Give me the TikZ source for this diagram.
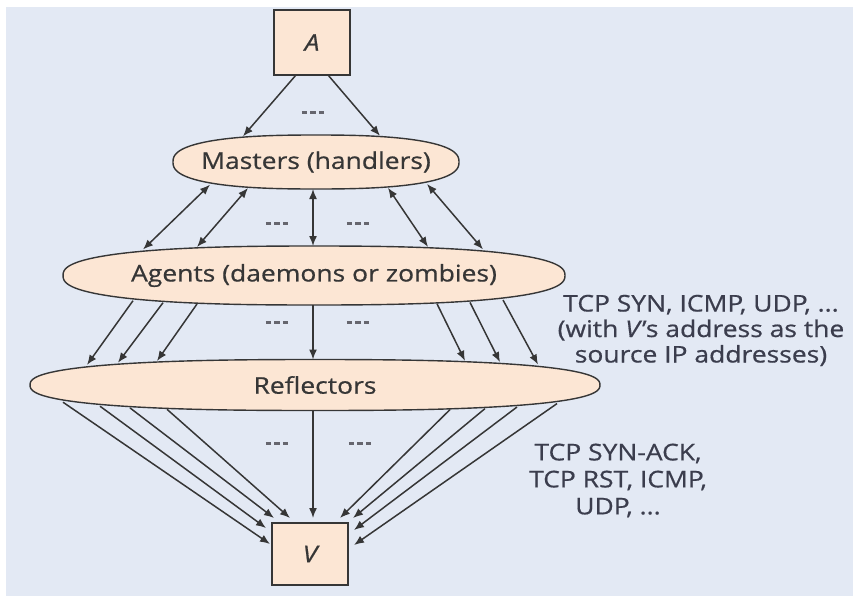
\documentclass[tikz,border=0pt]{standalone}
\usepackage{fontspec}
\setmainfont{Open Sans}[FakeStretch=1.15,FakeBold=0.6]
\usetikzlibrary{arrows.meta,calc}

\definecolor{bgblue}{HTML}{E3E9F4}
\definecolor{peach}{HTML}{FCE6D4}
\definecolor{ink}{HTML}{363636}
\definecolor{labelink}{HTML}{3B3D4D}
\definecolor{dotgray}{HTML}{66666E}

% three small marks standing for "and so on"
\newcommand\tridots{\textcolor{dotgray}{\rule{5.5pt}{3pt}\hspace{3pt}\rule{5.5pt}{3pt}\hspace{3pt}\rule{5.5pt}{3pt}}}

% rounded oval outline: centre x, centre y, half width, half height
\newcommand\ovalshape[4]{%
  \filldraw[oval] plot[domain=0.25:360.25,samples=361]
    ({#1+#3*cos(\x)/abs(cos(\x))^(0.2)},{#2+#4*sin(\x)/abs(sin(\x))^(0.2)});}

\begin{document}
\begin{tikzpicture}[x=1pt,y=-1pt,
  oval/.style={draw=ink,fill=peach,line width=1.4pt},
  box/.style={draw=ink,fill=peach,line width=1.4pt,rectangle,inner sep=0pt,
    font=\fontsize{23}{27}\selectfont\itshape,text=ink},
  otext/.style={inner sep=0pt,font=\fontsize{23}{27}\selectfont,text=ink},
  lbl/.style={inner sep=0pt,align=center,text=labelink},
  marks/.style={inner sep=0pt},
  tip/.tip={Latex[length=10pt,width=8pt]},
  conn/.style={draw=ink,line width=1.5pt,-tip},
  biconn/.style={draw=ink,line width=1.5pt,tip-tip}]

\useasboundingbox (0,0) rectangle (853,597);
\fill[white] (0,0) rectangle (853,597);
\fill[bgblue] (6,7) rectangle (853,596);

% the three tiers
\ovalshape{316}{162}{143}{27}
\ovalshape{314}{275.5}{251}{29.5}
\ovalshape{315}{385}{285}{25.5}

\node[otext] (masters) at (316,162) {Masters (handlers)};
\node[otext] (agents) at (314,275.5) {Agents (daemons or zombies)};
\node[otext] (refl) at (315,385) {Reflectors};

\node[box,minimum width=76pt,minimum height=65pt] (A) at (312,42.5) {A};
\node[box,minimum width=76pt,minimum height=62pt] (V) at (310,554) {V};

% attacker to masters
\draw[conn] ($(A.center)+(-16,32.5)$) -- ($(masters)+(-73,-25.7)$);
\draw[conn] ($(A.center)+(16,32.5)$) -- ($(masters)+(64,-26.2)$);

% masters to agents
\draw[biconn] ($(masters)+(-106,22.7)$) -- ($(agents)+(-171,-26)$);
\draw[biconn] ($(masters)+(-68,26)$) -- ($(agents)+(-117,-28.5)$);
\draw[biconn] ($(masters)+(-3,27)$) -- ($(agents)+(-1,-29.5)$);
\draw[biconn] ($(masters)+(72,25.8)$) -- ($(agents)+(114,-28.6)$);
\draw[biconn] ($(masters)+(111,21.9)$) -- ($(agents)+(169,-26.1)$);

% agents to reflectors
\draw[conn] ($(agents)+(-181,25.2)$) -- ($(refl)+(-228,-20.1)$);
\draw[conn] ($(agents)+(-151,27.2)$) -- ($(refl)+(-197,-22.3)$);
\draw[conn] ($(agents)+(-117,28.5)$) -- ($(refl)+(-158,-24)$);
\draw[conn] ($(agents)+(-1,29.5)$) -- ($(refl)+(-2,-25.5)$);
\draw[conn] ($(agents)+(123,28.3)$) -- ($(refl)+(150,-24.2)$);
\draw[conn] ($(agents)+(156,26.9)$) -- ($(refl)+(185,-22.9)$);
\draw[conn] ($(agents)+(189,24.5)$) -- ($(refl)+(223,-20.5)$);

% reflectors to victim
\draw[conn] ($(refl)+(-252,17.2)$) -- ($(V.center)+(-40,-10)$);
\draw[conn] ($(refl)+(-215,21.2)$) -- ($(V.center)+(-44,-26)$);
\draw[conn] ($(refl)+(-185,22.9)$) -- ($(V.center)+(-36,-36)$);
\draw[conn] ($(refl)+(-148,24.3)$) -- ($(V.center)+(-20,-36)$);
\draw[conn] ($(refl)+(-2,25.5)$) -- ($(V.center)+(3,-36)$);
\draw[conn] ($(refl)+(135,24.6)$) -- ($(V.center)+(30,-36)$);
\draw[conn] ($(refl)+(170,23.6)$) -- ($(V.center)+(43,-36)$);
\draw[conn] ($(refl)+(202,22)$) -- ($(V.center)+(44,-24)$);
\draw[conn] ($(refl)+(242,18.6)$) -- ($(V.center)+(44,-9)$);

% elision marks
\node[marks] (d0) at (313,112) {\tridots};
\node[marks] (d1) at (277,223) {\tridots};
\node[marks] (d2) at (358,223) {\tridots};
\node[marks] (d3) at (277,322) {\tridots};
\node[marks] (d4) at (358,322) {\tridots};
\node[marks] (d5) at (277,443) {\tridots};
\node[marks] (d6) at (360,443) {\tridots};

% packet types
\node[lbl,font=\fontsize{23}{25.5}\selectfont] (spoofed) at (701,330.5)
  {TCP SYN, ICMP, UDP, ...\\(with \textit{V}’s address as the\\source IP addresses)};
\node[lbl,font=\fontsize{23}{27}\selectfont] (replies) at (618,480.5)
  {TCP SYN-ACK,\\TCP RST, ICMP,\\UDP, ...};
\end{tikzpicture}
\end{document}
